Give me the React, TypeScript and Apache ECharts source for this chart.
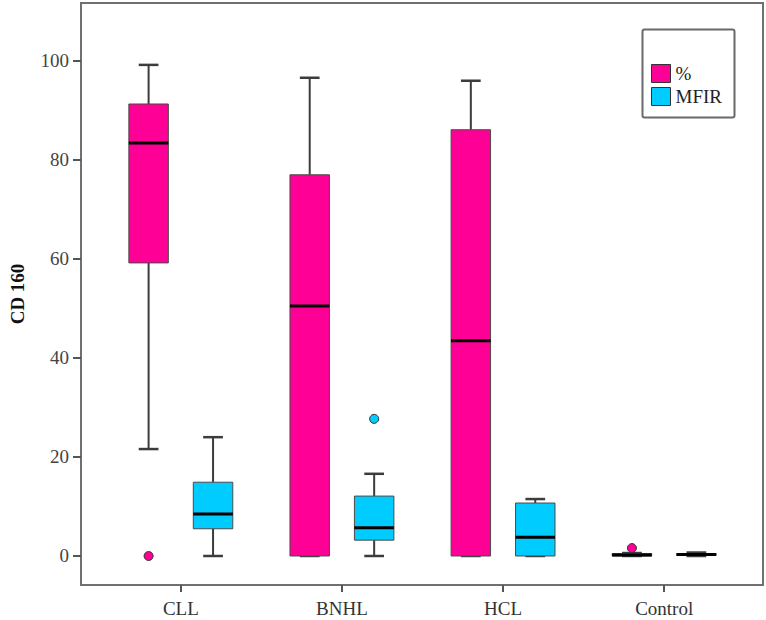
import React, { useEffect, useRef } from 'react';
import * as echarts from 'echarts';

// ---- data ----
const categories = ['CLL', 'BNHL', 'HCL', 'Control'];
const yTicks = [0, 20, 40, 60, 80, 100];
const seriesNames = ['%', 'MFIR'];

// "%" series: five-number summaries per category
const pctMin = [21.6, 0, 0, 0];
const pctQ1 = [59.2, 0, 0, 0];
const pctMedian = [83.4, 50.5, 43.5, 0.2];
const pctQ3 = [91.3, 77.0, 86.1, 0.5];
const pctMax = [99.2, 96.6, 96.0, 0.6];
const pctOutliers = [[0, 0], [3, 1.6]]; // [category index, value]

// "MFIR" series
const mfirMin = [0, 0, 0, 0];
const mfirQ1 = [5.5, 3.2, 0, 0.1];
const mfirMedian = [8.5, 5.7, 3.8, 0.3];
const mfirQ3 = [14.9, 12.1, 10.7, 0.5];
const mfirMax = [24.0, 16.6, 11.5, 0.7];
const mfirOutliers = [[1, 27.7]];

const PINK = '#FF0096';
const CYAN = '#00CCFF';
const SERIF = 'Liberation Serif';

const OFFSET_PCT = -0.2;
const OFFSET_MFIR = 0.2;
const BOX_FRAC = 0.245;

function boxData(mins: number[], q1s: number[], meds: number[], q3s: number[], maxs: number[]) {
  return categories.map((_, i) => [i, mins[i], q1s[i], meds[i], q3s[i], maxs[i]]);
}

function boxRenderer(offset: number) {
  return (_params: any, api: any) => {
    const i = api.value(0);
    const unit = api.size([1, 0])[0];
    const cx = api.coord([i, 0])[0] + offset * unit;
    const bw = BOX_FRAC * unit;
    const py = (v: number) => api.coord([i, v])[1];
    const yMin = py(api.value(1));
    const yQ1 = py(api.value(2));
    const yMed = py(api.value(3));
    const yQ3 = py(api.value(4));
    const yMax = py(api.value(5));
    const color = api.visual('color');
    const whisker = { stroke: '#3c3c3c', lineWidth: 2 };
    return {
      type: 'group',
      children: [
        { type: 'line', shape: { x1: cx, y1: yQ3, x2: cx, y2: yMax }, style: whisker },
        { type: 'line', shape: { x1: cx, y1: yQ1, x2: cx, y2: yMin }, style: whisker },
        { type: 'line', shape: { x1: cx - bw / 4, y1: yMax, x2: cx + bw / 4, y2: yMax }, style: { stroke: '#3c3c3c', lineWidth: 2.5 } },
        { type: 'line', shape: { x1: cx - bw / 4, y1: yMin, x2: cx + bw / 4, y2: yMin }, style: { stroke: '#3c3c3c', lineWidth: 2.5 } },
        {
          type: 'rect',
          shape: { x: cx - bw / 2, y: yQ3, width: bw, height: Math.max(yQ1 - yQ3, 0) },
          style: { fill: color, stroke: '#4a4a4a', lineWidth: 1 },
        },
        { type: 'line', shape: { x1: cx - bw / 2, y1: yMed, x2: cx + bw / 2, y2: yMed }, style: { stroke: '#000', lineWidth: 3 } },
      ],
    };
  };
}

function outlierRenderer(offset: number) {
  return (_params: any, api: any) => {
    const i = api.value(0);
    const unit = api.size([1, 0])[0];
    const p = api.coord([i, api.value(1)]);
    return {
      type: 'circle',
      shape: { cx: p[0] + offset * unit, cy: p[1], r: 4.5 },
      style: { fill: api.visual('color'), stroke: '#333', lineWidth: 1 },
    };
  };
}

export default function App() {
  const ref = useRef<HTMLDivElement>(null);
  useEffect(() => {
    if (!ref.current) return;
    const chart = echarts.init(ref.current, undefined, { renderer: 'svg' });
    const axisLineStyle = { color: '#707070', width: 2 };
    chart.setOption({
      animation: false,
      backgroundColor: '#ffffff',
      textStyle: { fontFamily: SERIF },
      grid: { left: 73, right: 3, top: 3, bottom: 35, show: true, borderColor: '#707070', borderWidth: 2 },
      xAxis: {
        type: 'value',
        min: -0.6196,
        max: 3.6135,
        axisLine: { show: true, onZero: false, lineStyle: axisLineStyle },
        axisTick: { show: true, length: 7, customValues: [0, 1, 2, 3], lineStyle: { color: '#555', width: 2 } },
        axisLabel: {
          customValues: [0, 1, 2, 3],
          formatter: (v: number) => categories[Math.round(v)] ?? '',
          margin: 14,
          fontFamily: SERIF,
          fontSize: 19,
          color: '#333',
        },
        splitLine: { show: false },
      },
      yAxis: {
        type: 'value',
        min: -5.86,
        max: 111.7,
        name: 'CD 160',
        nameLocation: 'middle',
        nameGap: 54,
        nameTextStyle: { fontFamily: SERIF, fontWeight: 'bold', fontSize: 19, color: '#111' },
        axisLine: { show: true, onZero: false, lineStyle: axisLineStyle },
        axisTick: { show: true, length: 8, customValues: yTicks, lineStyle: { color: '#555', width: 2 } },
        axisLabel: { customValues: yTicks, margin: 12, fontFamily: SERIF, fontSize: 19, color: '#444' },
        splitLine: { show: false },
      },
      legend: {
        data: seriesNames,
        orient: 'vertical',
        left: 651,
        top: 64,
        icon: 'rect',
        itemWidth: 19,
        itemHeight: 18,
        itemGap: 4,
        padding: 0,
        itemStyle: { borderColor: '#333', borderWidth: 1 },
        textStyle: { fontFamily: SERIF, fontSize: 19, color: '#222' },
      },
      graphic: [
        {
          type: 'rect',
          left: 640,
          top: 27,
          shape: { width: 92, height: 88, r: 2 },
          style: { fill: 'none', stroke: '#6a6a6a', lineWidth: 2 },
          z: 10,
        },
      ],
      series: [
        {
          name: seriesNames[0],
          type: 'custom',
          renderItem: boxRenderer(OFFSET_PCT),
          itemStyle: { color: PINK },
          encode: { x: 0, y: [1, 2, 3, 4, 5] },
          data: boxData(pctMin, pctQ1, pctMedian, pctQ3, pctMax),
        },
        {
          name: seriesNames[1],
          type: 'custom',
          renderItem: boxRenderer(OFFSET_MFIR),
          itemStyle: { color: CYAN },
          encode: { x: 0, y: [1, 2, 3, 4, 5] },
          data: boxData(mfirMin, mfirQ1, mfirMedian, mfirQ3, mfirMax),
        },
        {
          name: seriesNames[0],
          type: 'custom',
          renderItem: outlierRenderer(OFFSET_PCT),
          itemStyle: { color: PINK },
          encode: { x: 0, y: 1 },
          data: pctOutliers,
          z: 3,
        },
        {
          name: seriesNames[1],
          type: 'custom',
          renderItem: outlierRenderer(OFFSET_MFIR),
          itemStyle: { color: CYAN },
          encode: { x: 0, y: 1 },
          data: mfirOutliers,
          z: 3,
        },
      ],
    });
    return () => chart.dispose();
  }, []);
  return <div ref={ref} style={{ position: 'absolute', left: 0, top: 0, width: 766, height: 620 }} />;
}
